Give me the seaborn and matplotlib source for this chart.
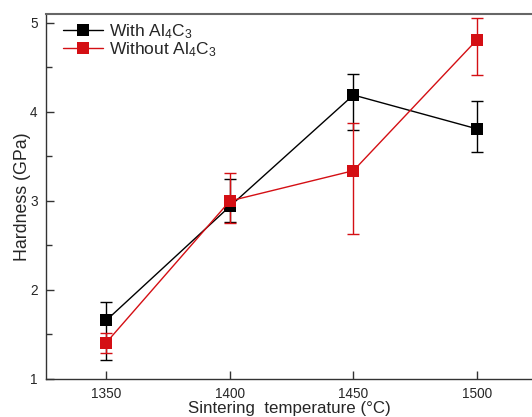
import numpy as np
import pandas as pd
import matplotlib
matplotlib.use("Agg")
import matplotlib.pyplot as plt
from matplotlib.ticker import MultipleLocator
import seaborn as sns

# ---- data ----
temps = [1350, 1400, 1450, 1500]
with_vals = [1.66, 2.94, 4.19, 3.81]
with_err_lo = [0.45, 0.18, 0.39, 0.26]
with_err_hi = [0.21, 0.31, 0.24, 0.31]
without_vals = [1.41, 3.00, 3.34, 4.81]
without_err_lo = [0.12, 0.245, 0.71, 0.39]
without_err_hi = [0.11, 0.315, 0.54, 0.25]
series_names = ["With Al$_4$C$_3$", "Without Al$_4$C$_3$"]
x_ticks = [1350, 1400, 1450, 1500]
y_ticks = [1, 2, 3, 4, 5]

sns.set_style("ticks")
plt.rcParams["font.family"] = ["Liberation Sans", "DejaVu Sans"]
plt.rcParams["mathtext.fontset"] = "custom"
plt.rcParams["mathtext.rm"] = "Liberation Sans"
plt.rcParams["mathtext.it"] = "Liberation Sans"
plt.rcParams["mathtext.default"] = "regular"

colors = ["#000000", "#d40f14"]

df = pd.DataFrame({
    "temp": temps * 2,
    "hardness": with_vals + without_vals,
    "series": [series_names[0]] * 4 + [series_names[1]] * 4,
})

fig = plt.figure(figsize=(5.32, 4.17), dpi=100)
ax = fig.add_axes([46 / 532, 1 - 379 / 417, 1 - 46 / 532, (379 - 14) / 417])

# error bars
errs = [(with_vals, with_err_lo, with_err_hi), (without_vals, without_err_lo, without_err_hi)]
for (vals, lo, hi), c in zip(errs, colors):
    ax.errorbar(temps, vals, yerr=[lo, hi], fmt="none", ecolor=c,
                elinewidth=1.0, capsize=4.5, capthick=1.0, zorder=2)

sns.lineplot(data=df, x="temp", y="hardness", hue="series", style="series",
             palette=colors, markers=["s", "s"], dashes=False,
             markersize=8, markeredgewidth=0, linewidth=1.0,
             sort=False, ax=ax, zorder=3)

ax.set_xlim(1325.55, 1522.3)
ax.set_ylim(1, 5.1)
ax.set_xticks(x_ticks)
ax.set_yticks(y_ticks)
ax.yaxis.set_minor_locator(MultipleLocator(0.5))
ax.tick_params(axis="both", which="major", direction="in", length=6, width=1,
               labelsize=9.8, color="#333333")
ax.tick_params(axis="x", pad=5.5)
ax.tick_params(axis="y", pad=6)
ax.tick_params(axis="y", which="minor", direction="in", length=4, width=1, color="#333333")

for side in ["left", "bottom"]:
    ax.spines[side].set_color("#333333")
    ax.spines[side].set_linewidth(1.0)
ax.spines["top"].set_color("#666666")
ax.spines["top"].set_linewidth(1.5)
ax.spines["right"].set_visible(False)

ax.set_xlabel("Sintering  temperature (°C)", fontsize=12.2, labelpad=0)
ax.set_ylabel("Hardness (GPa)", fontsize=12.8, labelpad=-1)

leg = ax.legend(loc="upper left", frameon=False, fontsize=12.5,
                handlelength=2.3, handletextpad=0.35, labelspacing=-0.05,
                borderaxespad=0.0, borderpad=0.0,
                bbox_to_anchor=(17 / 486, 1 - 8 / 365))
for line in leg.get_lines():
    line.set_linewidth(1.0)
    line.set_markersize(8)

fig.savefig("out.png", dpi=100)
